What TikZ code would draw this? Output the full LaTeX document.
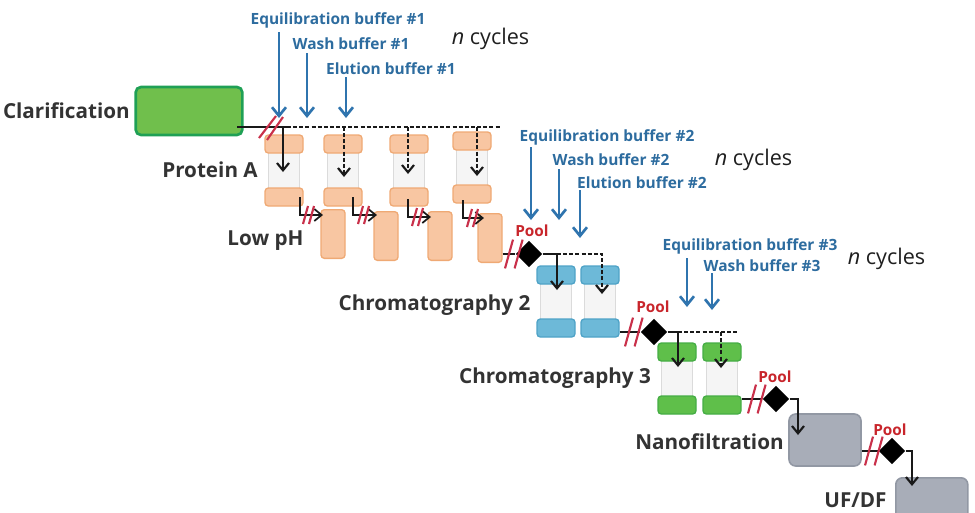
\documentclass[tikz,border=0pt]{standalone}
\usepackage{fontspec}
\setmainfont{Open Sans}
\usetikzlibrary{shapes,arrows.meta}
\definecolor{orangefill}{HTML}{F8C6A2}
\definecolor{orangeline}{HTML}{EFA974}
\definecolor{bluefill}{HTML}{6DB9D8}
\definecolor{blueline}{HTML}{4FA3C7}
\definecolor{greenfill}{HTML}{5FBF4A}
\definecolor{greenline}{HTML}{45AD45}
\definecolor{clarfill}{HTML}{70BF4C}
\definecolor{clarline}{HTML}{1FA055}
\definecolor{greyfill}{HTML}{A8ADB8}
\definecolor{greyline}{HTML}{9298A4}
\definecolor{buffertext}{HTML}{2D6C9F}
\definecolor{bufferline}{HTML}{2F74AE}
\definecolor{breakred}{HTML}{C9304A}
\definecolor{poolred}{HTML}{C8252B}

\begin{document}
\begin{tikzpicture}[x=0.75pt,y=-0.75pt,>={Straight Barb[length=5.5pt,width=9pt]},
  stage/.style={font=\fontsize{15.5}{18}\selectfont\bfseries,text=black!80,inner sep=0},
  cycles/.style={font=\fontsize{16.2}{18}\selectfont,text=black!88,inner sep=0},
  buffer/.style={font=\fontsize{11.6}{14}\selectfont\bfseries,text=buffertext,inner sep=0},
  pool/.style={font=\fontsize{11.5}{13}\selectfont\bfseries,text=poolred,inner sep=0},
  column cap/.style={rectangle,rounded corners=2.5pt,line width=1pt,inner sep=0,minimum width=28.5pt,minimum height=13.5pt},
  glass/.style={rectangle,fill=black!4,draw=black!14,inner sep=0,minimum width=23pt,minimum height=30pt},
  tank/.style={rectangle,rounded corners=2.5pt,fill=orangefill,draw=orangeline,line width=1pt,inner sep=0,minimum width=18pt,minimum height=36.5pt},
  grey box/.style={rectangle,rounded corners=5pt,fill=greyfill,draw=greyline,line width=1.2pt,inner sep=0,minimum width=54pt,minimum height=39pt},
  valve/.style={diamond,fill=black,inner sep=0,minimum size=20pt},
  flow/.style={line width=1.6pt,black!90},
  cycle flow/.style={flow,dash pattern=on 3pt off 1.6pt},
  feed/.style={line width=2pt,bufferline,>={Straight Barb[length=6.5pt,width=10.5pt]}},
  breakmark/.pic={
    \draw[breakred,line width=1.6pt] (-5,9) -- (0,-9);
    \draw[breakred,line width=1.6pt] (1,9) -- (6,-9);
  },
  wide breakmark/.pic={
    \draw[breakred,line width=1.6pt] (-12,10) -- (5,-12);
    \draw[breakred,line width=1.6pt] (-4,12) -- (12,-11);
  }]

  \clip (0,0) rectangle (975,512);

  % feed tank
  \node[rectangle,rounded corners=4pt,fill=clarfill,draw=clarline,line width=2pt,inner sep=0,
    minimum width=80pt,minimum height=36pt] (clar) at (189,111) {};
  \node[stage,anchor=east] (clarlabel) at (130,111) {Clarification};

  % columns
  \foreach \n/\x/\y/\f/\d in {pa1/284/144/orangefill/orangeline,pa2/343/144/orangefill/orangeline,
      pa3/409/144/orangefill/orangeline,pa4/472/141/orangefill/orangeline,
      cb1/556/275/bluefill/blueline,cb2/600/275/bluefill/blueline,
      cc1/677/352/greenfill/greenline,cc2/722/352/greenfill/greenline} {
    \node[glass] (\n m) at (\x,\y+27) {};
    \node[column cap,fill=\f,draw=\d] (\n t) at (\x,\y) {};
    \node[column cap,fill=\f,draw=\d] (\n b) at (\x,\y+53) {};
  }

  % low pH tanks
  \foreach \n/\x/\y in {lp1/333/234,lp2/386/236,lp3/440/236,lp4/490/238} {
    \node[tank] (\n) at (\x,\y) {};
  }

  \node[stage] (palabel) at (210,170) {Protein A};
  \node[stage] (lplabel) at (265.5,241) {Low pH};
  \node[stage] (cblabel) at (434.5,305) {Chromatography 2};
  \node[stage] (cclabel) at (555,378) {Chromatography 3};
  \node[stage] (nflabel) at (709.5,442) {Nanofiltration};
  \node[stage,anchor=base] (uflabel) at (855.5,507) {UF/DF};

  \node[cycles] (cyc1) at (490.5,39) {\textit{n} cycles};
  \node[cycles] (cyc2) at (753.5,160) {\textit{n} cycles};
  \node[cycles] (cyc3) at (886.5,259) {\textit{n} cycles};

  \node[buffer] (eq1) at (338,20) {Equilibration buffer \#1};
  \node[buffer] (wa1) at (351,44) {Wash buffer \#1};
  \node[buffer] (el1) at (391,69) {Elution buffer \#1};
  \node[buffer] (eq2) at (607,137) {Equilibration buffer \#2};
  \node[buffer] (wa2) at (611,160) {Wash buffer \#2};
  \node[buffer] (el2) at (642,183) {Elution buffer \#2};
  \node[buffer] (eq3) at (750,246) {Equilibration buffer \#3};
  \node[buffer] (wa3) at (762,266) {Wash buffer \#3};

  % buffer feeds
  \foreach \n/\x/\a/\b in {eq1/279/32/118,wa1/307/53/118,el1/346/77/118,
      eq2/531/147/220,wa2/559/169/220,el2/580/190/238,
      eq3/687/258/307,wa3/712/273/310} {
    \coordinate (\n a) at (\x,\a);
    \coordinate (\n b) at (\x,\b);
    \draw[feed,->] (\n a) -- (\n b);
  }

  % protein A header
  \coordinate (pastart) at (237,127);
  \coordinate (pasplit) at (287,127);
  \coordinate (paend) at (500,127);
  \draw[flow] (pastart) -- (pasplit);
  \draw[cycle flow] (pasplit) -- (paend);
  \foreach \n/\x/\e/\s in {pa1/283/172/flow,pa2/344/177/cycle flow,pa3/408/174/cycle flow,pa4/477/176/cycle flow} {
    \coordinate (\n top) at (\x,127);
    \coordinate (\n in) at (\x,\e);
    \draw[\s,->] (\n top) -- (\n in);
  }
  \pic at (271,128) {wide breakmark};

  % column to low pH
  \foreach \n/\l/\x/\y/\e/\m in {pa1/lp1/300/197/323/308,pa2/lp2/353/197/377/363,pa3/lp3/408/199/431/417,pa4/lp4/463/200/484/472} {
    \coordinate (\n out) at (\x,\y);
    \coordinate (\l in) at (\e,\y+18);
    \draw[flow,line width=1.3pt,->] (\n out) |- (\l in);
    \pic at (\m,\y+18) {breakmark};
  }

  % pools
  \node[valve] (v1) at (529,254) {};
  \node[valve] (v2) at (654,332) {};
  \node[valve] (v3) at (776,399) {};
  \node[valve] (v4) at (892,451) {};
  \node[pool] (pool1) at (532,231) {Pool};
  \node[pool] (pool2) at (653,307) {Pool};
  \node[pool] (pool3) at (775,377) {Pool};
  \node[pool] (pool4) at (890,430) {Pool};

  % chromatography 2
  \draw[flow] (lp4.east |- v1) -- (v1);
  \pic[scale=1.6] at (513,254) {breakmark};
  \coordinate (cbsplit) at (557,254);
  \coordinate (cb1in) at (557,290);
  \coordinate (cb2in) at (602,294);
  \draw[flow,->] (v1) -| (cb1in);
  \draw[cycle flow,->] (cbsplit) -| (cb2in);

  % chromatography 3
  \draw[flow] (cb2b.east |- v2) -- (v2);
  \pic[scale=1.6] at (633,332) {breakmark};
  \coordinate (ccsplit) at (678,332);
  \coordinate (ccend) at (738,332);
  \coordinate (cc2top) at (721,332);
  \coordinate (cc1in) at (678,367);
  \coordinate (cc2in) at (721,368);
  \draw[flow,->] (v2) -| (cc1in);
  \draw[cycle flow] (ccsplit) -- (ccend);
  \draw[cycle flow,->] (cc2top) -- (cc2in);

  % nanofiltration
  \node[grey box] (nf) at (825,440) {};
  \coordinate (nfin) at (798,435);
  \draw[flow] (cc2b.east |- v3) -- (v3);
  \pic[scale=1.6] at (756,399) {breakmark};
  \draw[flow,->] (v3) -| (nfin);

  % UF/DF
  \node[grey box,anchor=north west,minimum height=60pt] (uf) at (895,477) {};
  \coordinate (ufin) at (912,486);
  \draw[flow] (nf.east |- v4) -- (v4);
  \pic[scale=1.6] at (873,451) {breakmark};
  \draw[flow,->] (v4) -| (ufin);
\end{tikzpicture}
\end{document}
